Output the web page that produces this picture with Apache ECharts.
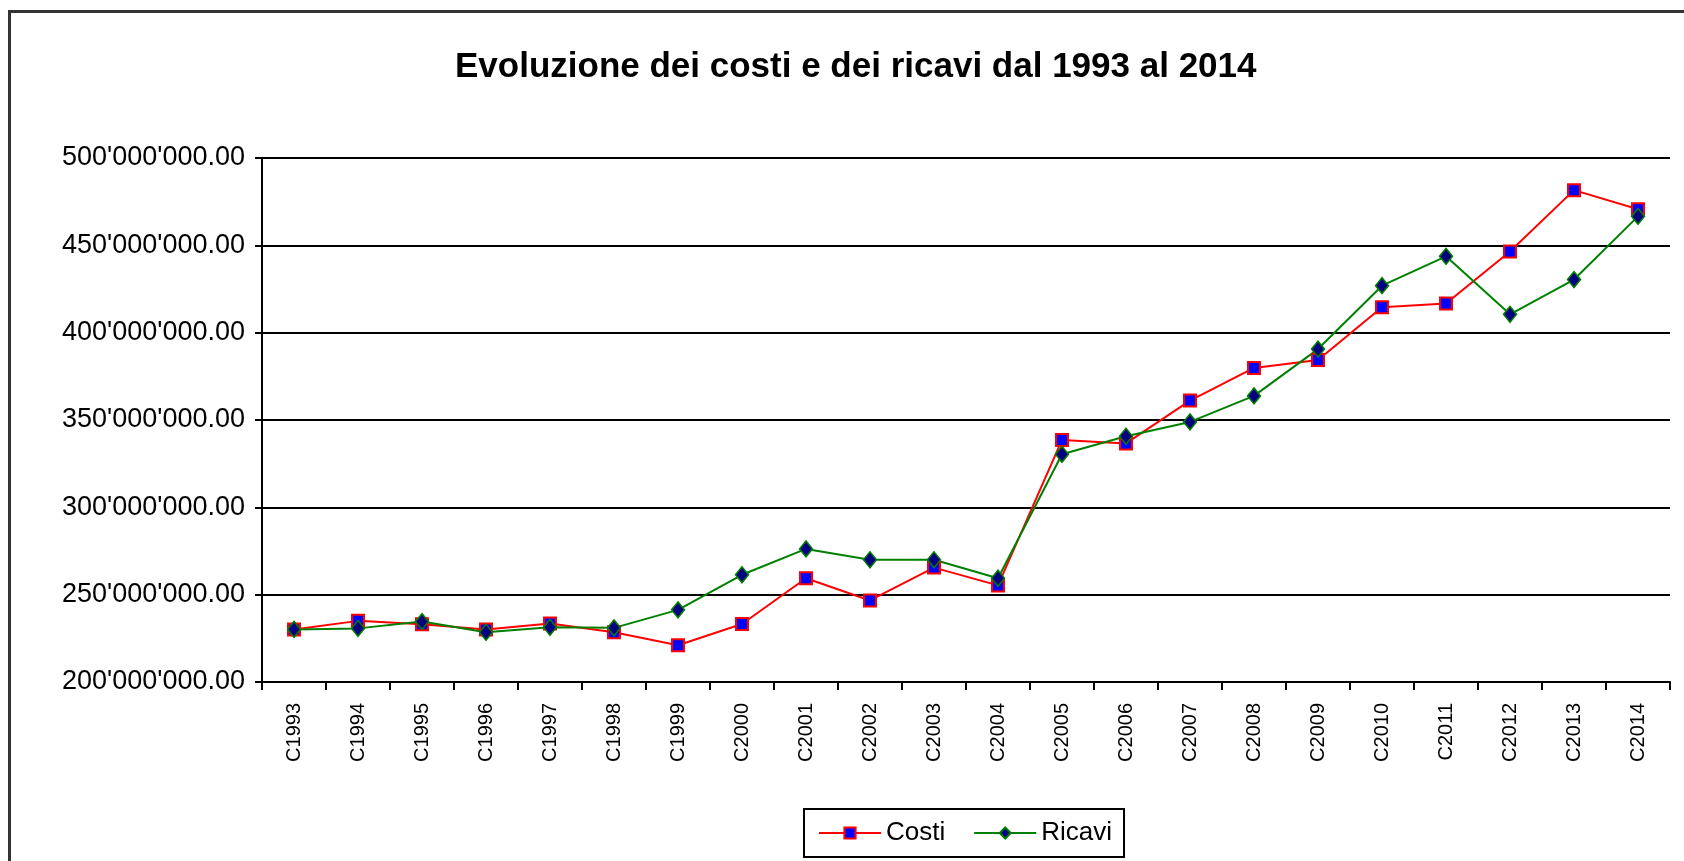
<!DOCTYPE html>
<html lang="it">
<head>
    <meta charset="UTF-8">
    <title>Evoluzione dei costi e dei ricavi</title>
    <script src="https://cdn.jsdelivr.net/npm/echarts@6/dist/echarts.min.js"></script>
    <style>
        html, body { margin: 0; padding: 0; background: #fff; }
        #main { width: 1684px; height: 861px; }
    </style>
</head>
<body>
<div id="main"></div>

<script type="text/javascript">
    // anni (categorie dell'asse x)
    var anni = ['C1993', 'C1994', 'C1995', 'C1996', 'C1997', 'C1998', 'C1999', 'C2000',
        'C2001', 'C2002', 'C2003', 'C2004', 'C2005', 'C2006', 'C2007', 'C2008',
        'C2009', 'C2010', 'C2011', 'C2012', 'C2013', 'C2014'];

    // valori (in milioni)
    var costi = [230.1, 235.0, 233.0, 230.1, 233.5, 228.5, 221.0, 233.2, 259.4, 246.7, 265.5,
        255.3, 338.6, 336.6, 361.1, 379.8, 384.3, 414.6, 416.7, 446.5, 481.6, 470.7];
    var ricavi = [230.1, 230.7, 234.6, 228.5, 231.3, 231.0, 241.3, 261.4, 276.2, 270.0, 270.0,
        259.4, 330.4, 340.7, 348.9, 363.8, 390.6, 426.9, 443.7, 410.5, 430.4, 466.6];

    // scala asse y
    var yMin = 200000000;
    var yMax = 500000000;
    var yStep = 50000000;

    function milioni(arr) {
        return arr.map(function (v) { return Math.round(v * 1000000); });
    }

    // 500000000 -> 500'000'000.00
    function formatta(v) {
        var s = Math.round(v).toString();
        return s.replace(/\B(?=(\d{3})+(?!\d))/g, "'") + '.00';
    }

    var myChart = echarts.init(document.getElementById('main'));
    var font = 'Liberation Sans, Arial, sans-serif';

    var option = {
        animation: false,
        backgroundColor: '#fff',
        title: {
            text: 'Evoluzione dei costi e dei ricavi dal 1993 al 2014',
            left: 450,
            top: 45,
            textStyle: {
                fontFamily: font,
                fontSize: 35,
                fontWeight: 'bold',
                color: '#000'
            }
        },
        legend: {
            data: ['Costi', 'Ricavi'],
            left: 804,
            top: 809,
            orient: 'horizontal',
            padding: [11, 12, 11, 14],
            itemWidth: 62,
            itemHeight: 14,
            itemGap: 28,
            borderColor: '#000',
            borderWidth: 2,
            textStyle: {
                fontFamily: font,
                fontSize: 26,
                color: '#000'
            }
        },
        grid: {
            left: 262,
            right: 14,
            top: 158,
            bottom: 179,
            containLabel: false
        },
        xAxis: {
            type: 'category',
            data: anni,
            boundaryGap: true,
            axisLine: { lineStyle: { color: '#000', width: 2 } },
            axisTick: { show: true, length: 8, lineStyle: { color: '#000', width: 2 } },
            axisLabel: {
                rotate: 90,
                interval: 0,
                margin: 21,
                fontFamily: font,
                fontSize: 20,
                color: '#000'
            },
            splitLine: { show: false }
        },
        yAxis: {
            type: 'value',
            min: yMin,
            max: yMax,
            interval: yStep,
            axisLine: { show: true, lineStyle: { color: '#000', width: 2 } },
            axisTick: { show: true, length: 7, lineStyle: { color: '#000', width: 2 } },
            axisLabel: {
                margin: 17,
                fontFamily: font,
                fontSize: 27,
                color: '#000',
                formatter: formatta
            },
            splitLine: { show: true, lineStyle: { color: '#000', width: 2 } }
        },
        series: [
            {
                name: 'Costi',
                type: 'line',
                data: milioni(costi),
                symbol: 'rect',
                symbolSize: 12,
                lineStyle: { color: '#ff0000', width: 2 },
                itemStyle: { color: '#0000ff', borderColor: '#ff0000', borderWidth: 2 }
            },
            {
                name: 'Ricavi',
                type: 'line',
                data: milioni(ricavi),
                symbol: 'diamond',
                symbolSize: [13, 16],
                lineStyle: { color: '#008000', width: 2 },
                itemStyle: { color: '#000080', borderColor: '#008000', borderWidth: 1.5 }
            }
        ],
        graphic: [
            {
                // cornice esterna del grafico
                type: 'rect',
                silent: true,
                z: -1,
                shape: { x: 9.5, y: 11.5, width: 1800, height: 1000 },
                style: { fill: null, stroke: '#333', lineWidth: 3 }
            }
        ]
    };

    myChart.setOption(option);
</script>
</body>
</html>
